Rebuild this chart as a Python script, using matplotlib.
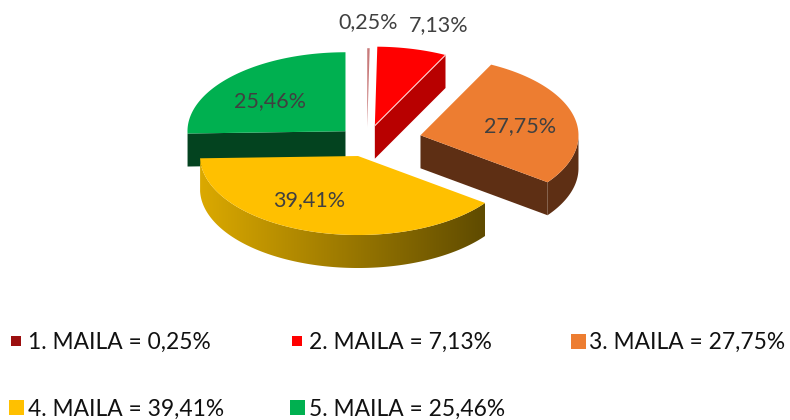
import numpy as np
import matplotlib
matplotlib.use("Agg")
from matplotlib import pyplot as plt
from matplotlib.colors import LinearSegmentedColormap
from matplotlib.lines import Line2D
from matplotlib.patches import Polygon

labels = ["1. MAILA", "2. MAILA", "3. MAILA", "4. MAILA", "5. MAILA"]
values = [0.25, 7.13, 27.75, 39.41, 25.46]
colors = ["#9C0F0F", "#FF0000", "#ED7D31", "#FFC000", "#00B050"]
side_colors = ["#8C0000", "#B80000", "#5E2F14", "#DBA900", "#03431F"]

# pie geometry in pixels
cx, cy = 367, 141.7
rx, ry = 158, 79
depth = 33
explode = [29, 33, 55, 30, 30]
label_pos = [(368, 22), (439, 25), (520, 126), (309, 200), (270, 101)]
legend_sizes = [6.8, 6.8, 10.8, 10.8, 10.8]

plt.rcParams["font.family"] = ["Lato", "DejaVu Sans"]

fig = plt.figure(figsize=(7.9, 4.2), dpi=100)
ax = fig.add_axes([0, 0, 1, 1])
ax.axis("off")


def pct(v):
    return f"{v:.2f}%".replace(".", ",")


def arc(x0, y0, a0, a1, n=120):
    # clockwise angles from the top, in degrees
    t = np.radians(np.linspace(a0, a1, n))
    return np.column_stack([x0 + rx * np.sin(t), y0 - ry * np.cos(t)])


edges = np.concatenate([[0], np.cumsum(values)]) / sum(values) * 360
apex = []
for i in range(5):
    mid = np.radians((edges[i] + edges[i + 1]) / 2)
    apex.append((cx + explode[i] * np.sin(mid), cy - explode[i] * 0.5 * np.cos(mid)))

# 1. slice is only a hairline
a0, a1 = edges[0], edges[1]
ax.add_patch(Polygon(np.vstack([apex[0], arc(*apex[0], a0, a1, 5)]), fc=colors[0], ec="none", alpha=0.55, zorder=1))

# 2. slice, cut face then top
x0, y0 = apex[1]
end = arc(x0, y0, edges[2], edges[2], 1)[0]
ax.add_patch(Polygon([(x0, y0), end, (end[0], end[1] + depth), (x0, y0 + depth)], fc=side_colors[1], ec="none", zorder=2))
ax.add_patch(Polygon(np.vstack([apex[1], arc(x0, y0, edges[1], edges[2])]), fc=colors[1], ec="none", zorder=3))
ax.plot([x0, end[0]], [y0, end[1]], color="#FFD0D0", lw=0.8, zorder=4)

# 3. slice, outer wall and cut face then top
x0, y0 = apex[2]
wall = arc(x0, y0, 90, edges[3])
ax.add_patch(Polygon(np.vstack([wall, (wall + [0, depth])[::-1]]), fc=side_colors[2], ec="none", zorder=2))
end = wall[-1]
ax.add_patch(Polygon([(x0, y0), end, (end[0], end[1] + depth), (x0, y0 + depth)], fc=side_colors[2], ec="none", zorder=2))
ax.add_patch(Polygon(np.vstack([apex[2], arc(x0, y0, edges[2], edges[3])]), fc=colors[2], ec="none", zorder=3))

# 5. slice, cut face then top (sits behind the yellow one)
x0, y0 = apex[4]
end = arc(x0, y0, edges[4], edges[4], 1)[0]
ax.add_patch(Polygon([(x0, y0), end, (end[0], end[1] + depth), (x0, y0 + depth)], fc=side_colors[4], ec="none", zorder=5))
ax.add_patch(Polygon(np.vstack([apex[4], arc(x0, y0, edges[4], edges[5])]), fc=colors[4], ec="none", zorder=6))

# 4. slice, outer wall shaded from left to right with a clipped gradient
x0, y0 = apex[3]
wall = arc(x0, y0, edges[3], edges[4], 200)
wall_patch = Polygon(np.vstack([wall, (wall + [0, depth])[::-1]]), fc="none", ec="none", transform=ax.transData)
ax.add_patch(wall_patch)
shade = LinearSegmentedColormap.from_list("wall", [side_colors[3], "#5F4B00"])
grad = ax.imshow(np.linspace(0, 1, 256).reshape(1, -1), cmap=shade, aspect="auto", zorder=7,
                 extent=[wall[:, 0].min(), wall[:, 0].max(), wall[:, 1].max() + depth, wall[:, 1].min()])
grad.set_clip_path(wall_patch)
ax.add_patch(Polygon(np.vstack([apex[3], arc(x0, y0, edges[3], edges[4])]), fc=colors[3], ec="none", zorder=8))

ax.set_xlim(0, 790)
ax.set_ylim(420, 0)

for v, (x, y) in zip(values, label_pos):
    ax.text(x, y, pct(v), ha="center", va="center", fontsize=15.5, color="#404040", zorder=10)

handles = [Line2D([], [], ls="none", marker="s", mfc=c, mec=c, ms=s, mew=0) for c, s in zip(colors, legend_sizes)]
names = [f"{n} = {pct(v)}" for n, v in zip(labels, values)]
# legend fills column by column
order = [0, 3, 1, 4, 2]
ax.legend([handles[i] for i in order], [names[i] for i in order], ncol=3, frameon=False,
          loc="upper left", bbox_to_anchor=(0.0086, 0.21), fontsize=16.4, labelcolor="#111111",
          handlelength=0.8, handletextpad=0.12, columnspacing=2.8, labelspacing=2.0,
          borderpad=0, borderaxespad=0)

plt.savefig("out.png", dpi=100)
